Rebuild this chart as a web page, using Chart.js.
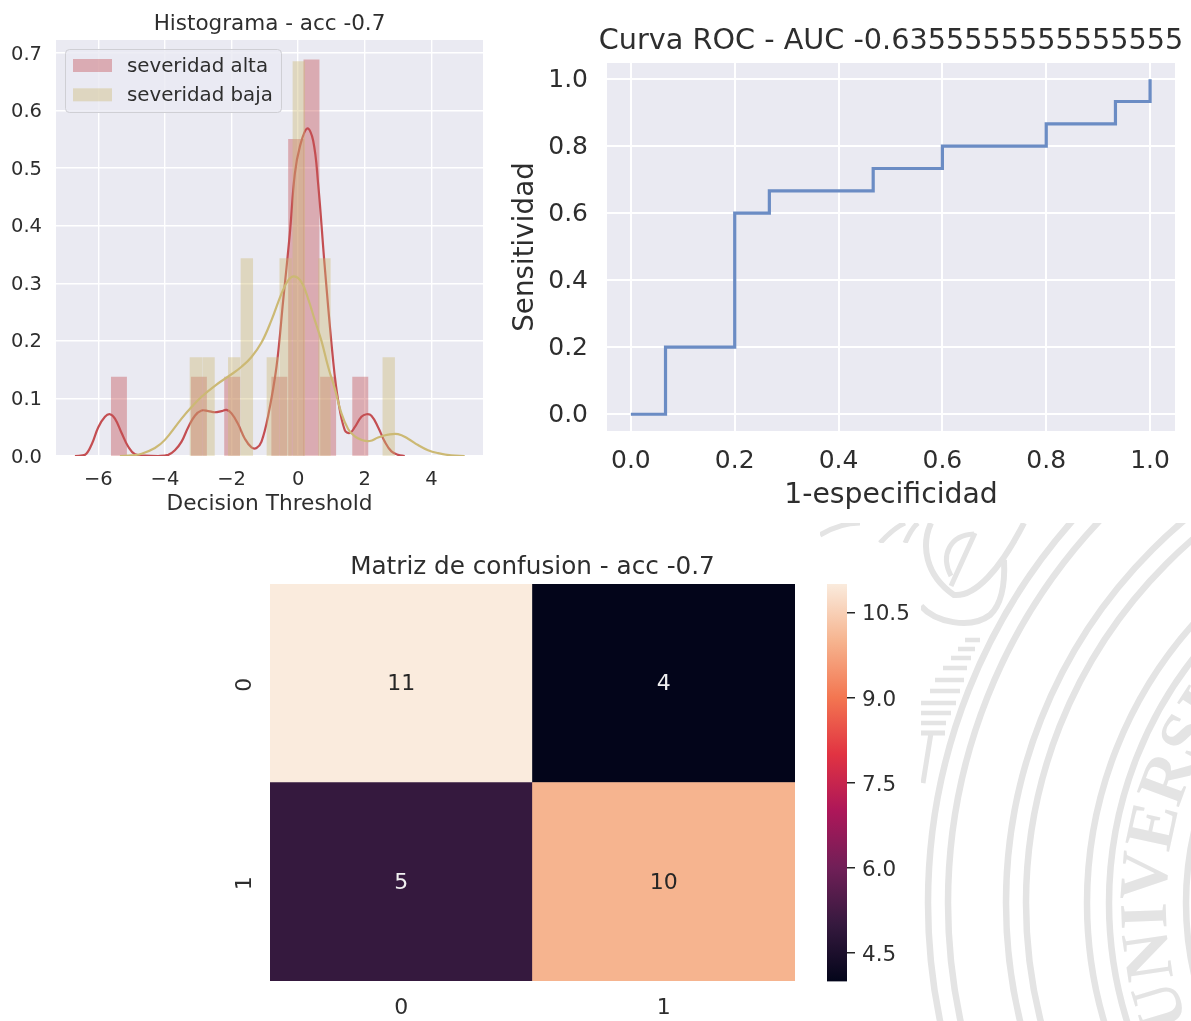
<!DOCTYPE html>
<html>
<head>
<meta charset="utf-8">
<title>Histograma, Curva ROC, Matriz de confusion</title>
<script src="https://cdn.jsdelivr.net/npm/chart.js@4"></script>
<style>
	html, body { margin: 0; padding: 0; background: #fff; overflow: hidden; }
	#page { position: relative; width: 1191px; height: 1021px; overflow: hidden; }
	canvas { position: absolute; }
	#sello { position: absolute; left: 0; top: 0; clip-path: polygon(820px 523px, 1191px 523px, 1191px 1021px, 921px 1021px, 921px 543px, 820px 543px); }
</style>
</head>
<body>
<div id="page">
	<svg id="sello" width="1191" height="1021" fill="none" stroke="#e4e4e4">
		<defs><path id="arcoTexto" d="M 1188 1024 A 340 340 0 0 1 1506 563"></path></defs>
		<circle cx="1506" cy="903" r="578" stroke-width="6.5"></circle>
		<circle cx="1506" cy="903" r="558" stroke-width="6.5"></circle>
		<circle cx="1506" cy="903" r="500" stroke-width="6.5"></circle>
		<circle cx="1506" cy="903" r="480" stroke-width="6.5"></circle>
		<circle cx="1506" cy="903" r="419" stroke-width="6.5"></circle>
		<circle cx="1506" cy="903" r="397" stroke-width="6.5"></circle>
		<circle cx="1506" cy="903" r="320" stroke-width="6.5"></circle>
		<path d="M 921 606 C 935 622, 970 630, 990 615 C 1003 603, 1005 580, 1004 560" stroke-width="6"></path>
		<path d="M 931 523 C 921 545, 925 575, 954 595 C 975 597, 1000 570, 1024 523" stroke-width="6"></path>
		<path d="M 974 534 C 950 535, 940 555, 951 576 M 951 586 L 975 533" stroke-width="5"></path>
		<path d="M 820 535 C 835 526, 850 523, 860 523 M 880 543 C 890 532, 898 526, 905 523 M 905 543 C 910 532, 914 526, 918 523" stroke-width="5"></path>
		<path d="M 965 640 L 980 640 M 958 649 L 975 649 M 951 658 L 971 658 M 943 668 L 967 668 M 935 680 L 964 680 M 930 691 L 960 691 M 921 703 L 956 703 M 921 713 L 951 713 M 921 723 L 946 723" stroke-width="4.5"></path>
		<path d="M 921 733 L 945 733 M 931 733 L 923 783" stroke-width="5"></path>
		<text font-family="Liberation Serif" font-weight="bold" font-size="68" fill="#e4e4e4" stroke="none"><textPath href="#arcoTexto">UNIVERSIDAD</textPath></text>
	</svg>
	<canvas id="hist" width="500" height="523" style="left:0;top:0"></canvas>
	<canvas id="roc" width="691" height="523" style="left:500px;top:0"></canvas>
	<canvas id="matriz" width="800" height="478" style="left:0;top:543px"></canvas>
	<canvas id="barra" width="121" height="478" style="left:800px;top:543px"></canvas>
</div>
<script>
// histograma: centros de cada barra y su densidad
var altaCentros = [-5.38, -2.98, -1.98, -0.565, -0.06, 0.40, 0.90, 1.865];
var altaAlturas = [0.137, 0.137, 0.137, 0.137, 0.55, 0.688, 0.137, 0.137];
var bajaCentros = [-3.07, -2.69, -1.92, -1.54, -0.76, -0.375, 0.02, 0.79, 2.72];
var bajaAlturas = [0.171, 0.171, 0.171, 0.343, 0.171, 0.343, 0.685, 0.343, 0.171];

// curvas kde
var altaKdeX = [-6.7, -6.4, -6.2, -6.0, -5.8, -5.65, -5.5, -5.3, -5.1, -4.9, -4.6, -4.2, -3.9, -3.7, -3.5, -3.3, -3.1, -2.9, -2.7, -2.5, -2.3, -2.15, -2.0, -1.8, -1.6, -1.4, -1.25, -1.1, -0.9, -0.65, -0.45, -0.25, -0.1, 0.05, 0.27, 0.45, 0.6, 0.8, 1.05, 1.2, 1.4, 1.55, 1.7, 1.9, 2.05, 2.2, 2.4, 2.6, 2.8, 3.0, 3.2];
var altaKdeY = [0, 0.002, 0.02, 0.05, 0.068, 0.0725, 0.065, 0.04, 0.016, 0.003, 0.0005, 0, 0.002, 0.01, 0.025, 0.05, 0.07, 0.079, 0.078, 0.076, 0.078, 0.08, 0.074, 0.055, 0.03, 0.015, 0.014, 0.025, 0.07, 0.155, 0.27, 0.386, 0.49, 0.537, 0.569, 0.548, 0.473, 0.328, 0.166, 0.097, 0.045, 0.04, 0.05, 0.068, 0.0725, 0.07, 0.05, 0.025, 0.008, 0.002, 0];
var bajaKdeX = [-5.35, -5.0, -4.7, -4.3, -4.0, -3.5, -3.2, -2.9, -2.5, -2.0, -1.7, -1.4, -1.1, -0.8, -0.5, -0.3, -0.12, 0.1, 0.3, 0.5, 0.7, 0.9, 1.1, 1.3, 1.5, 1.7, 1.9, 2.15, 2.4, 2.7, 3.0, 3.3, 3.6, 3.9, 4.2, 4.6, 5.0];
var bajaKdeY = [0, 0.001, 0.004, 0.014, 0.028, 0.065, 0.085, 0.103, 0.122, 0.142, 0.155, 0.172, 0.197, 0.236, 0.282, 0.305, 0.312, 0.302, 0.273, 0.236, 0.2, 0.155, 0.117, 0.074, 0.047, 0.034, 0.028, 0.026, 0.032, 0.037, 0.038, 0.03, 0.019, 0.01, 0.005, 0.001, 0];
var histTicksX = [-6, -4, -2, 0, 2, 4];
var histTicksY = [0, 0.1, 0.2, 0.3, 0.4, 0.5, 0.6, 0.7];

// curva roc
var fpr = [0, 0.0667, 0.0667, 0.2, 0.2, 0.2667, 0.2667, 0.4667, 0.4667, 0.6, 0.6, 0.8, 0.8, 0.9333, 0.9333, 1, 1];
var tpr = [0, 0, 0.2, 0.2, 0.6, 0.6, 0.6667, 0.6667, 0.7333, 0.7333, 0.8, 0.8, 0.8667, 0.8667, 0.9333, 0.9333, 1];
var rocTicks = [0, 0.2, 0.4, 0.6, 0.8, 1];

// matriz de confusion
var columnas = ['0', '1'];
var fila0 = [11, 4];
var fila1 = [5, 10];
var barraTicks = [4.5, 6, 7.5, 9, 10.5];
var rocket = ['#03051a', '#35193e', '#701f57', '#ad1759', '#e13342', '#f37651', '#f6b48f', '#faebdd'];

var texto = '#2e2e2e';
Chart.defaults.font.family = "'DejaVu Sans'";
Chart.defaults.color = texto;
Chart.defaults.animation = false;

function hexRgb(h) {
	return [parseInt(h.substr(1, 2), 16), parseInt(h.substr(3, 2), 16), parseInt(h.substr(5, 2), 16)];
}

function colorDe(v) {
	var t = (v - 4) / 7 * (rocket.length - 1);
	var i = Math.min(Math.floor(t), rocket.length - 2);
	var a = hexRgb(rocket[i]), b = hexRgb(rocket[i + 1]), f = t - i;
	return 'rgb(' + a.map(function(c, k) { return Math.round(c + (b[k] - c) * f); }).join(',') + ')';
}

function pares(xs, ys) {
	return xs.map(function(x, i) { return {x: x, y: ys[i]}; });
}

function fijarTicks(valores) {
	return function(scale) {
		scale.ticks = valores.map(function(v) { return {value: v}; });
	};
}

// ancho fijo del eje y, y sus etiquetas un poco mas abajo para centrarlas en la linea
function anchoEjeY(ancho, bajar) {
	return function(scale) {
		scale.width = ancho;
		if (scale.bajado) return;
		scale.bajado = true;
		var original = scale.drawLabels;
		scale.drawLabels = function(area) {
			this.ctx.save();
			this.ctx.translate(0, bajar);
			original.call(this, area);
			this.ctx.restore();
		};
	};
}

// fondo gris del area de datos
var fondoPlot = {
	id: 'fondoPlot',
	beforeDraw: function(chart) {
		var a = chart.chartArea;
		chart.ctx.fillStyle = '#eaeaf2';
		chart.ctx.fillRect(a.left, a.top, a.width, a.height);
	}
};

// el titulo de la curva roc es mas ancho que el area de datos
var tituloAncho = {
	id: 'tituloAncho',
	afterLayout: function(chart) {
		chart.titleBlock.left -= 20;
		chart.titleBlock.right += 20;
	}
};

// leyenda dentro del area, como en matplotlib
var leyendaHist = {
	id: 'leyendaHist',
	afterDraw: function(chart) {
		var c = chart.ctx;
		c.save();
		c.beginPath();
		c.roundRect(65.5, 49.5, 216, 63, 4);
		c.fillStyle = 'rgba(234,234,242,0.8)';
		c.fill();
		c.strokeStyle = '#cfcfd4';
		c.lineWidth = 1;
		c.stroke();
		c.font = "19.8px 'DejaVu Sans'";
		c.textBaseline = 'middle';
		chart.data.datasets.filter(function(d) { return d.type === 'bar'; }).forEach(function(d, i) {
			c.fillStyle = d.backgroundColor;
			c.fillRect(73, 59 + i * 29.3, 39, 13);
			c.fillStyle = texto;
			c.fillText(d.label, 127, 66.5 + i * 29.3);
		});
		c.restore();
	}
};

new Chart(document.getElementById('hist'), {
	type: 'bar',
	data: {
		datasets: [
			{type: 'bar', label: 'severidad alta', data: pares(altaCentros, altaAlturas), backgroundColor: 'rgba(196,78,82,0.4)', barThickness: 15.3, grouped: false, order: 4},
			{type: 'line', label: 'kde alta', data: pares(altaKdeX, altaKdeY), borderColor: '#c44e52', borderWidth: 2.2, pointRadius: 0, tension: 0.4, order: 3},
			{type: 'bar', label: 'severidad baja', data: pares(bajaCentros, bajaAlturas), backgroundColor: 'rgba(204,185,116,0.4)', barThickness: 11.7, grouped: false, order: 2},
			{type: 'line', label: 'kde baja', data: pares(bajaKdeX, bajaKdeY), borderColor: '#ccb974', borderWidth: 2.2, pointRadius: 0, tension: 0.4, order: 1}
		]
	},
	options: {
		responsive: false,
		layout: {autoPadding: false, padding: {right: 17}},
		plugins: {
			legend: {display: false},
			tooltip: {enabled: false},
			title: {display: true, text: 'Histograma - acc -0.7', fullSize: false, font: {size: 21.5, weight: 'normal'}, padding: {top: 11.5, bottom: 2.7}}
		},
		scales: {
			x: {
				type: 'linear', min: -7.27, max: 5.55, offset: false,
				grid: {color: '#fff', lineWidth: 1.4, drawTicks: false, offset: false},
				border: {display: false},
				afterBuildTicks: fijarTicks(histTicksX),
				afterFit: function(s) { s.height = 67; },
				ticks: {font: {size: 19.5}, padding: 12, maxRotation: 0, autoSkip: false, callback: function(v) { return String(v).replace('-', '\u2212'); }},
				title: {display: true, text: 'Decision Threshold', font: {size: 21.7}, padding: {top: 0, bottom: 6}}
			},
			y: {
				min: 0, max: 0.7226,
				grid: {color: '#fff', lineWidth: 1.4, drawTicks: false},
				border: {display: false},
				afterBuildTicks: fijarTicks(histTicksY),
				afterFit: anchoEjeY(56, 1.5),
				ticks: {font: {size: 19.5}, padding: 14, autoSkip: false, callback: function(v) { return v.toFixed(1); }}
			}
		}
	},
	plugins: [fondoPlot, leyendaHist]
});

new Chart(document.getElementById('roc'), {
	type: 'line',
	data: {
		datasets: [{label: 'ROC', data: pares(fpr, tpr), borderColor: '#6b8cc4', borderWidth: 3.2, pointRadius: 0, tension: 0, borderJoinStyle: 'miter'}]
	},
	options: {
		responsive: false,
		layout: {autoPadding: false, padding: {right: 16}},
		plugins: {
			legend: {display: false},
			tooltip: {enabled: false},
			title: {display: true, text: 'Curva ROC - AUC -0.6355555555555555', fullSize: false, font: {size: 28.7, weight: 'normal'}, padding: {top: 24.5, bottom: 4.1}}
		},
		scales: {
			x: {
				type: 'linear', min: -0.046, max: 1.048,
				grid: {color: '#fff', lineWidth: 2, drawTicks: false},
				border: {display: false},
				afterBuildTicks: fijarTicks(rocTicks),
				afterFit: function(s) { s.height = 92; },
				ticks: {font: {size: 25}, padding: 15, maxRotation: 0, autoSkip: false, callback: function(v) { return v.toFixed(1); }},
				title: {display: true, text: '1-especificidad', font: {size: 28.3}, padding: {top: 0, bottom: 10}}
			},
			y: {
				min: -0.05, max: 1.048,
				grid: {color: '#fff', lineWidth: 2, drawTicks: false},
				border: {display: false},
				afterBuildTicks: fijarTicks(rocTicks),
				afterFit: anchoEjeY(107, 1.5),
				ticks: {font: {size: 25}, padding: 19, autoSkip: false, callback: function(v) { return v.toFixed(1); }},
				title: {display: true, text: 'Sensitividad', font: {size: 27.8}, padding: {top: 9, bottom: 0}}
			}
		}
	},
	plugins: [fondoPlot, tituloAncho]
});

// numero de cada celda, claro sobre oscuro
var anotaciones = {
	id: 'anotaciones',
	afterDatasetsDraw: function(chart) {
		var c = chart.ctx;
		c.save();
		c.font = "22px 'DejaVu Sans'";
		c.textAlign = 'center';
		c.textBaseline = 'middle';
		chart.data.datasets.forEach(function(d, i) {
			chart.getDatasetMeta(i).data.forEach(function(bar, j) {
				var p = bar.getCenterPoint();
				c.fillStyle = d.valores[j] > 7.5 ? '#262626' : '#f0f0f0';
				c.fillText(d.valores[j], p.x, p.y + 1.5);
			});
		});
		c.restore();
	}
};

new Chart(document.getElementById('matriz'), {
	type: 'bar',
	data: {
		labels: columnas,
		datasets: [
			{label: 'fila 1', valores: fila1, data: fila1.map(function() { return 1; }), backgroundColor: fila1.map(colorDe), categoryPercentage: 1, barPercentage: 1},
			{label: 'fila 0', valores: fila0, data: fila0.map(function() { return 1; }), backgroundColor: fila0.map(colorDe), categoryPercentage: 1, barPercentage: 1}
		]
	},
	options: {
		responsive: false,
		layout: {autoPadding: false, padding: {right: 5}},
		plugins: {
			legend: {display: false},
			tooltip: {enabled: false},
			title: {display: true, text: 'Matriz de confusion - acc -0.7', fullSize: false, font: {size: 24.7, weight: 'normal'}, padding: {top: 10, bottom: 1.4}}
		},
		scales: {
			x: {
				stacked: true,
				grid: {display: false},
				border: {display: false},
				afterFit: function(s) { s.height = 40; },
				ticks: {font: {size: 22}, padding: 6, maxRotation: 0}
			},
			y: {
				stacked: true, min: 0, max: 2,
				grid: {display: false},
				border: {display: false},
				afterBuildTicks: fijarTicks([0.5, 1.5]),
				afterFit: anchoEjeY(270, 1.5),
				ticks: {font: {size: 22}, padding: 10, minRotation: 90, maxRotation: 90, crossAlign: 'center', callback: function(v) { return v > 1 ? '0' : '1'; }}
			}
		}
	},
	plugins: [anotaciones]
});

new Chart(document.getElementById('barra'), {
	type: 'bar',
	data: {
		labels: ['escala'],
		datasets: [{
			label: 'escala',
			data: [[4, 11]],
			categoryPercentage: 1,
			barPercentage: 1,
			backgroundColor: function(ctx) {
				var a = ctx.chart.chartArea;
				if (!a) return rocket[0];
				var g = ctx.chart.ctx.createLinearGradient(0, a.bottom, 0, a.top);
				rocket.forEach(function(col, i) { g.addColorStop(i / (rocket.length - 1), col); });
				return g;
			}
		}]
	},
	options: {
		responsive: false,
		layout: {autoPadding: false, padding: {left: 27, top: 41, bottom: 39.5}},
		plugins: {legend: {display: false}, tooltip: {enabled: false}},
		scales: {
			x: {display: false},
			y: {
				position: 'right', min: 4, max: 11,
				grid: {drawOnChartArea: false, drawTicks: true, tickLength: 8, tickColor: '#262626', lineWidth: 1.5},
				border: {display: false},
				afterBuildTicks: fijarTicks(barraTicks),
				afterFit: anchoEjeY(74, 2.5),
				ticks: {font: {size: 21.5}, padding: 7, autoSkip: false, callback: function(v) { return v.toFixed(1); }}
			}
		}
	}
});
</script>
</body>
</html>
